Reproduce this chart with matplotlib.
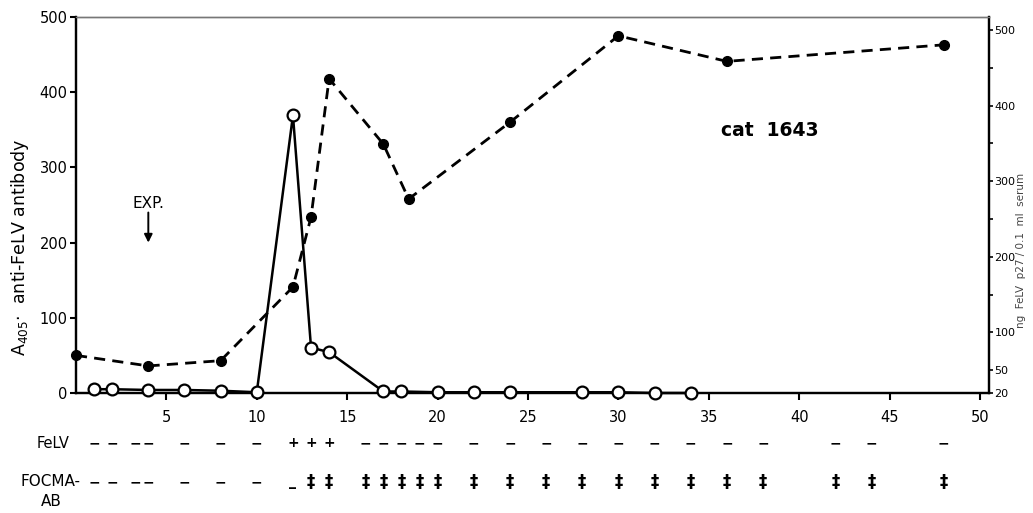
import matplotlib
matplotlib.use('Agg')
import matplotlib.pyplot as plt
import matplotlib.transforms as mtransforms
from matplotlib.ticker import FixedLocator

plt.rcParams['font.family'] = ['DejaVu Sans']

# Anti-FeLV antibody (filled circles, dashed line, left axis)
days_ab = [0, 4, 8, 12, 13, 14, 17, 18.4, 24, 30, 36, 48]
antibody = [50, 36, 43, 141, 234, 418, 331, 258, 360, 475, 441, 463]

# FeLV p27 (open circles, solid line, right axis)
days_p27 = [1, 2, 4, 6, 8, 10, 12, 13, 14, 17, 18, 20, 22, 24, 28, 30, 32, 34]
p27 = [25, 25, 24, 24, 23, 21, 387, 80, 74, 22, 22, 21, 21, 21, 21, 21, 20, 20]

# Status rows under the x axis
row_days = [1, 2, 3.3, 4, 6, 8, 10, 12, 13, 14, 16, 17, 18, 19, 20, 22, 24,
            26, 28, 30, 32, 34, 36, 38, 42, 44, 48]
felv_status = ['−'] * 7 + ['+'] * 3 + ['−'] * 17
focma_status = ['−'] * 7 + ['_'] + ['‡'] * 19

x_ticks = [5, 10, 15, 20, 25, 30, 35, 40, 45, 50]
left_ticks = [0, 100, 200, 300, 400, 500]
right_ticks = [20, 50, 100, 200, 300, 400, 500]
right_minor = [150, 250, 350, 450]

W, H = 1033, 513
fig = plt.figure(figsize=(W / 100, H / 100), dpi=100)
ax = fig.add_axes([76 / W, 1 - 393 / H, (989 - 76) / W, (393 - 17) / H])
ax2 = ax.twinx()

ax.set_xlim(0, 50.5)
ax.set_ylim(0, 500)
ax2.set_ylim(20, 517)

ax.plot(days_ab, antibody, color='black', lw=2.0, dashes=(4, 2.6),
        marker='o', ms=7, mfc='black', mec='black', clip_on=False, zorder=3)
ax2.plot(days_p27, p27, color='black', lw=1.8, marker='o', ms=8.5,
         mfc='white', mec='black', mew=1.6, clip_on=False, zorder=4)

ax.set_xticks(x_ticks)
ax.set_yticks(left_ticks)
ax2.yaxis.set_major_locator(FixedLocator(right_ticks))
ax2.yaxis.set_minor_locator(FixedLocator(right_minor))

ax.tick_params(axis='x', direction='out', length=5, width=1.5, pad=7, labelsize=10.5)
ax.tick_params(axis='y', direction='out', length=4, width=1.5, pad=2, labelsize=10.5)
ax2.tick_params(axis='y', which='major', direction='out', length=3, width=1.2, pad=1, labelsize=8)
ax2.tick_params(axis='y', which='minor', direction='out', length=3, width=1.2)

for a in (ax, ax2):
    for s in ('left', 'right', 'bottom'):
        a.spines[s].set_linewidth(1.6)
        a.spines[s].set_color('black')
    a.spines['top'].set_linewidth(1.0)
    a.spines['top'].set_color('#777777')

# axis labels
fig.text(20 / W, 1 - 247 / H, 'A$_{405}$·  anti-FeLV antibody', rotation=90,
         ha='center', va='center', fontsize=12.5)
fig.text(1021 / W, 1 - 250 / H, 'ng  FeLV  p27 / 0.1  ml  serum', rotation=90,
         ha='center', va='center', fontsize=7.5, color='#444444')

# annotations
ax.text(35.7, 349, 'cat  1643', fontsize=13.5, fontweight='bold', ha='left', va='center')
ax.text(4, 252, 'EXP.', fontsize=11, ha='center', va='center')
ax.annotate('', xy=(4, 200), xytext=(4, 240),
            arrowprops=dict(arrowstyle='-|>', color='black', lw=1.4,
                            mutation_scale=12, shrinkA=0, shrinkB=0))

# status rows
trans = mtransforms.blended_transform_factory(ax.transData, ax.transAxes)
for d, s in zip(row_days, felv_status):
    ax.text(d, -0.133, s, transform=trans, ha='center', va='center',
            fontsize=10, fontweight='bold', clip_on=False)
for d, s in zip(row_days, focma_status):
    ax.text(d, -0.237, s, transform=trans, ha='center', va='center',
            fontsize=12 if s == '‡' else 10, fontweight='bold', clip_on=False)

fig.text(70 / W, 1 - 443 / H, 'FeLV', ha='right', va='center', fontsize=10.5)
fig.text(80 / W, 1 - 482 / H, 'FOCMA-', ha='right', va='center', fontsize=11)
fig.text(51 / W, 1 - 501 / H, 'AB', ha='center', va='center', fontsize=11)

fig.savefig('out.png', dpi=100)
